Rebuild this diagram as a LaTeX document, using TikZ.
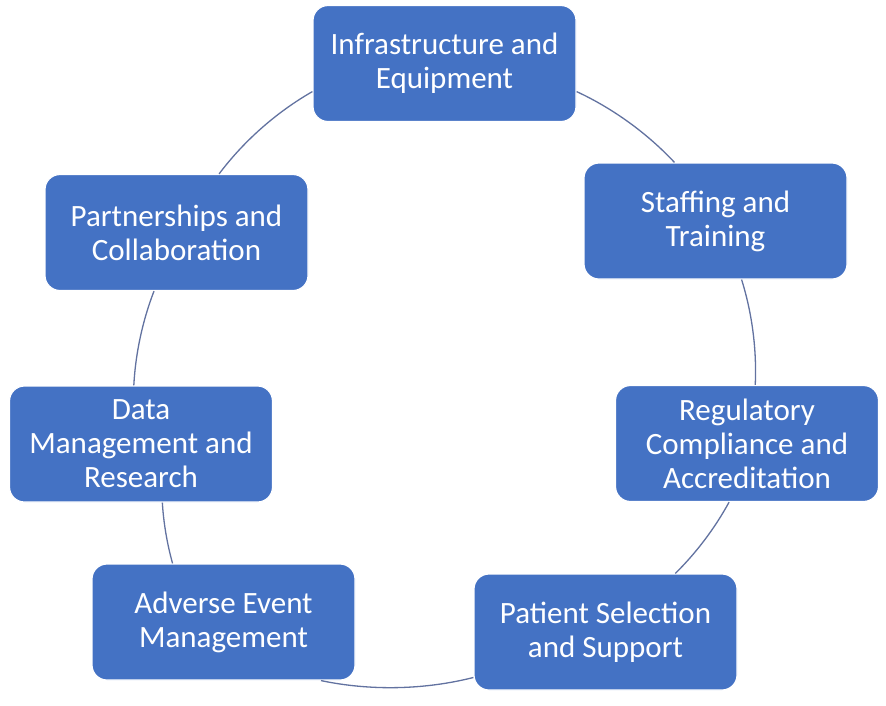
\documentclass[tikz,border=0pt]{standalone}
\usepackage{fontspec}
\setmainfont{Carlito}
\definecolor{boxblue}{HTML}{4472C4}
\definecolor{arcline}{HTML}{6272A0}
\begin{document}
\begin{tikzpicture}[x=1pt,y=1pt,
  stagebox/.style={rectangle, rounded corners=15pt, fill=boxblue, draw=white,
    line width=1.2pt, minimum width=263pt, minimum height=116pt, text=white,
    align=center, font=\fontsize{31}{34}\selectfont, inner sep=0pt},
  link/.style={draw=arcline, line width=1.3pt, looseness=0.85}]
\useasboundingbox (0,0) rectangle (886,-705);
\fill[white] (0,0) rectangle (886,-705);
\node[stagebox] (b1) at (444.5,-63.5) {Infrastructure and\\Equipment};
\node[stagebox] (b2) at (715.5,-221) {Staffing and\\Training};
\node[stagebox] (b3) at (747,-443.5) {Regulatory\\Compliance and\\Accreditation};
\node[stagebox] (b4) at (605.5,-632) {Patient Selection\\and Support};
\node[stagebox] (b5) at (223.5,-622) {Adverse Event\\Management};
\node[stagebox] (b6) at (141,-444) {Data\\Management and\\Research};
\node[stagebox] (b7) at (176.5,-232.5) {Partnerships and\\Collaboration};
\draw[link] (b1.-12.5) to[bend left=11] (b2.125.5);
\draw[link] (b2.-66.9) to[bend left=10] (b3.82.6);
\draw[link] (b3.-107.2) to[bend left=8.4] (b4.40);
\draw[link] (b4.-161) to[bend left=13] (b5.-31);
\draw[link] (b5.131.9) to[bend left=6] (b6.-70.1);
\draw[link] (b6.97.5) to[bend left=9] (b7.-111.2);
\draw[link] (b7.54.9) to[bend left=11.6] (b1.192.8);
\end{tikzpicture}
\end{document}
